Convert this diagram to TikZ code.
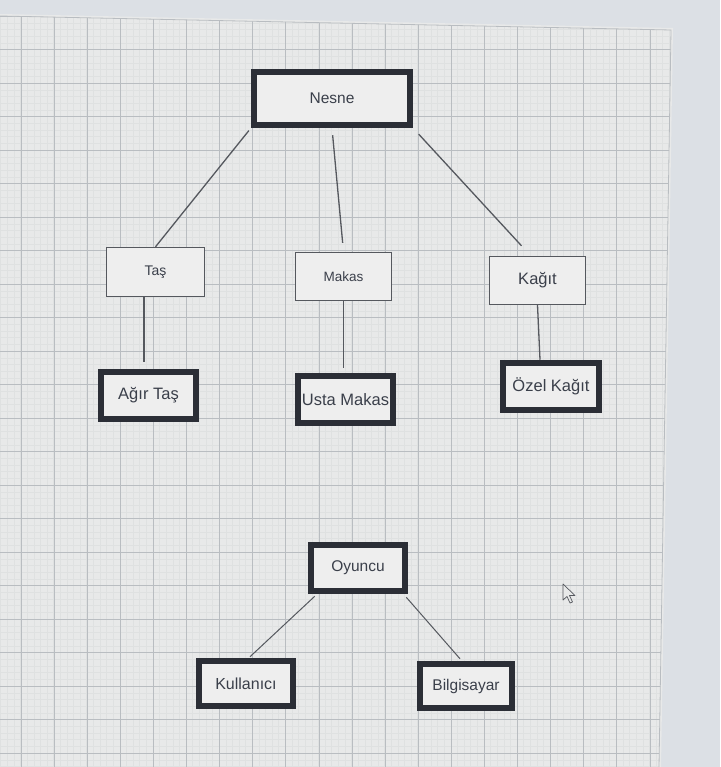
\documentclass[tikz,border=0pt]{standalone}
\usepackage{fontspec}
\setmainfont{Liberation Sans}
\usetikzlibrary{calc}
\definecolor{paper}{HTML}{E8E9E9}
\definecolor{bezel}{HTML}{DCE0E5}
\definecolor{gridmaj}{HTML}{B9BDC1}
\definecolor{gridmin}{HTML}{DFE1E1}
\definecolor{boxfill}{HTML}{EEEEEE}
\definecolor{ink}{HTML}{2B2E36}
\definecolor{txt}{HTML}{3A3F4A}
\definecolor{wire}{HTML}{55585E}
\tikzset{
  thinbox/.style={draw=wire, line width=1.4pt, fill=boxfill, inner sep=0pt, text=txt,
    minimum width=96pt, minimum height=48pt, font=\fontsize{15}{18}\selectfont},
  thickbox/.style={draw=ink, line width=6.5pt, fill=boxfill, inner sep=0pt, text=txt,
    minimum width=95pt, minimum height=47pt, font=\fontsize{16.5}{19}\selectfont},
  wireline/.style={draw=wire, line width=1.3pt}
}
\begin{document}
\begin{tikzpicture}[x=1pt,y=-1pt]
\useasboundingbox (0,0) rectangle (720,767);
% screen background
\fill[bezel] (0,0) rectangle (720,767);
% paper
\fill[paper] (0,14) -- (673,28) -- (661,767) -- (0,767) -- cycle;
\begin{scope}
\clip (0,16) -- (671,30) -- (659,767) -- (0,767) -- cycle;
\foreach \i in {0,...,105} {
  \draw[gridmin, line width=0.35pt] ({0.6+6.62*\i},0) -- ({0.6+6.62*\i},767);
}
\foreach \j in {0,...,115} {
  \draw[gridmin, line width=0.35pt] (0,{16+6.7*\j}) -- (720,{16+6.7*\j});
}
\foreach \i in {0,...,21} {
  \draw[gridmaj, line width=0.8pt] ({21+33.1*\i},0) -- ({21+33.1*\i},767);
}
\foreach \j in {0,...,23} {
  \draw[gridmaj, line width=0.8pt] (0,{16+33.5*\j}) -- (720,{16+33.5*\j});
}
\end{scope}
\draw[gridmaj, line width=0.8pt] (0,16) -- (671,30) -- (659,767);

% nodes
\node[thickbox, minimum width=156pt, minimum height=53pt, font=\fontsize{15.5}{18}\selectfont] (nesne) at (332,98.5) {Nesne};
\node[thinbox, minimum width=98pt, minimum height=49pt, font=\fontsize{14}{17}\selectfont] (tas) at (155.5,272) {Taş};
\node[thinbox, font=\fontsize{13.5}{16}\selectfont] (makas) at (343.5,276.5) {Makas};
\node[thinbox, font=\fontsize{16.5}{19}\selectfont] (kagit) at (537.5,280.5) {Kağıt};
\node[thickbox] (agir) at (148.5,395.5) {Ağır Taş};
\node[thickbox] (usta) at (345.5,399.5) {Usta Makas};
\node[thickbox, minimum width=96pt] (ozel) at (551,386.5) {Özel Kağıt};
\node[thickbox, minimum width=94pt, minimum height=46pt, font=\fontsize{15.5}{18}\selectfont] (oyuncu) at (358,568) {Oyuncu};
\node[thickbox, minimum width=94pt, minimum height=45pt, font=\fontsize{16}{19}\selectfont] (kull) at (246,683.5) {Kullanıcı};
\node[thickbox, minimum width=92pt, minimum height=44pt, font=\fontsize{15.5}{18}\selectfont] (bilg) at (466,686) {Bilgisayar};

% connectors
\draw[wireline, shorten <=3pt] (nesne.south west) -- (tas.north);
\draw[wireline, shorten <=7pt, shorten >=9pt] (nesne.south) -- (makas.north);
\draw[wireline, shorten <=8pt] (nesne.south east) -- ($(kagit.north)+(-16,-10)$);
\draw[wireline] ($(tas.south)+(-11.5,0)$) -- ($(agir.north)+(-4.5,-7)$);
\draw[wireline] (makas.south) -- ($(usta.north)+(-2,-5)$);
\draw[wireline] (kagit.south) -- ($(ozel.north)+(-11,0)$);
\draw[wireline, line width=1pt] ($(oyuncu.south west)+(7,2)$) -- ($(kull.north)+(4,-1)$);
\draw[wireline, line width=1pt] ($(oyuncu.south east)+(-2,3)$) -- ($(bilg.north)+(-6,-2)$);

% mouse pointer
\draw[wire, fill=paper, line width=0.7pt, line join=round]
  (563,584) -- (563,600) -- (567,596.5) -- (570,603) -- (572.5,602) -- (569.5,595.5) -- (575,595.5) -- cycle;
\end{tikzpicture}
\end{document}
